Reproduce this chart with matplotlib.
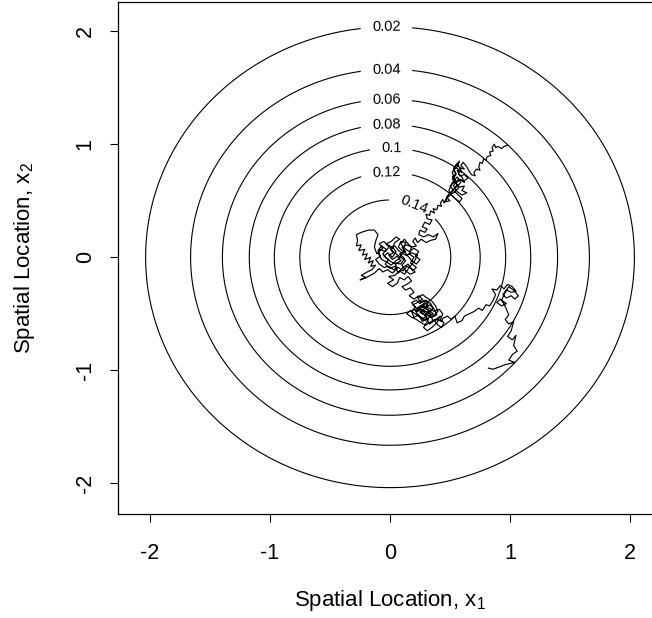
import numpy as np
import matplotlib
matplotlib.use("Agg")
import matplotlib.pyplot as plt

plt.rcParams['font.family'] = ['Liberation Sans', 'DejaVu Sans']
plt.rcParams['mathtext.fontset'] = 'custom'
plt.rcParams['mathtext.rm'] = 'Liberation Sans'
plt.rcParams['mathtext.it'] = 'Liberation Sans:italic'

# contour levels of the standard bivariate normal density
levels = [0.02, 0.04, 0.06, 0.08, 0.10, 0.12, 0.14]
level_labels = {0.02: '0.02', 0.04: '0.04', 0.06: '0.06', 0.08: '0.08',
                0.10: '0.1', 0.12: '0.12', 0.14: '0.14'}
label_x = [-0.03, -0.03, -0.03, -0.03, 0.01, -0.03, 0.20]

ticks = [-2, -1, 0, 1, 2]

# random-walk path, (x1, x2) pairs, piece by piece
walk_tail_top = [
    (0.98, 0.99), (0.95, 0.98), (0.93, 0.96), (0.90, 0.98), (0.88, 0.97), (0.87, 1.00), (0.85, 0.97),
    (0.86, 0.94), (0.83, 0.93), (0.84, 0.90), (0.81, 0.89), (0.80, 0.86), (0.78, 0.87), (0.77, 0.83),
    (0.75, 0.84), (0.74, 0.80), (0.75, 0.77), (0.72, 0.78), (0.70, 0.75), (0.71, 0.72), (0.68, 0.73),
    (0.66, 0.76),
]
walk_cluster_upper = [
    (0.64, 0.80), (0.61, 0.84), (0.59, 0.81), (0.62, 0.78), (0.58, 0.79), (0.60, 0.75), (0.56, 0.77),
    (0.58, 0.72), (0.62, 0.73), (0.65, 0.70), (0.61, 0.67), (0.57, 0.69), (0.55, 0.65), (0.58, 0.62),
    (0.62, 0.63), (0.60, 0.59), (0.64, 0.57), (0.60, 0.55), (0.56, 0.58), (0.53, 0.63), (0.55, 0.68),
    (0.52, 0.71), (0.55, 0.74), (0.53, 0.77), (0.56, 0.80), (0.58, 0.85), (0.55, 0.82), (0.52, 0.75),
    (0.54, 0.67), (0.50, 0.63), (0.53, 0.59), (0.57, 0.55), (0.60, 0.52), (0.58, 0.49), (0.54, 0.52),
    (0.51, 0.55), (0.49, 0.59), (0.52, 0.66), (0.56, 0.71), (0.59, 0.66), (0.54, 0.61), (0.50, 0.57),
    (0.47, 0.53), (0.50, 0.50), (0.46, 0.49),
    (0.49, 0.55), (0.53, 0.57), (0.57, 0.61), (0.55, 0.66), (0.59, 0.69), (0.62, 0.66), (0.60, 0.71),
    (0.57, 0.74), (0.59, 0.78), (0.56, 0.82), (0.53, 0.79), (0.55, 0.73), (0.52, 0.69), (0.56, 0.64),
    (0.53, 0.60), (0.50, 0.55), (0.47, 0.52), (0.45, 0.48),
]
walk_cluster_mid = [
    (0.44, 0.51), (0.42, 0.48), (0.43, 0.45), (0.40, 0.46), (0.39, 0.42), (0.36, 0.43), (0.37, 0.39),
    (0.34, 0.41), (0.33, 0.37), (0.30, 0.38), (0.31, 0.34), (0.35, 0.33), (0.33, 0.29), (0.29, 0.31),
    (0.27, 0.27), (0.31, 0.25), (0.29, 0.22), (0.25, 0.24), (0.24, 0.20), (0.28, 0.18), (0.32, 0.20),
    (0.36, 0.18), (0.40, 0.21), (0.38, 0.16), (0.34, 0.15), (0.30, 0.13), (0.26, 0.16), (0.23, 0.13),
    (0.21, 0.17), (0.19, 0.14), (0.22, 0.10), (0.18, 0.09),
]
walk_cluster_centre = [
    (0.15, 0.12), (0.12, 0.16), (0.09, 0.12), (0.12, 0.08), (0.16, 0.05), (0.20, 0.08), (0.24, 0.05),
    (0.21, 0.01), (0.25, -0.02), (0.22, -0.06), (0.18, -0.03), (0.15, 0.01), (0.11, 0.03), (0.07, 0.06),
    (0.04, 0.10), (0.00, 0.08), (0.03, 0.04), (-0.01, 0.02), (0.02, -0.02), (0.06, 0.01), (0.09, -0.03),
    (0.05, -0.06), (0.01, -0.04), (-0.03, -0.01), (-0.06, 0.03), (-0.03, 0.07), (-0.07, 0.10), (-0.10, 0.06),
    (-0.08, 0.01), (-0.12, -0.02), (-0.09, -0.06), (-0.05, -0.09), (-0.01, -0.08), (0.03, -0.11), (0.07, -0.09),
    (0.11, -0.12), (0.14, -0.08), (0.18, -0.10), (0.21, -0.13), (0.17, -0.15), (0.13, -0.12), (0.10, -0.07),
    (0.13, -0.03), (0.09, 0.00), (0.05, 0.03), (0.01, 0.06), (0.04, 0.13), (0.08, 0.16), (0.05, 0.18),
    (0.01, 0.14), (-0.03, 0.12), (0.00, 0.10), (-0.04, 0.05), (-0.08, 0.07), (-0.11, 0.03), (-0.13, 0.09),
]
walk_loop_left = [
    (-0.12, 0.14), (-0.10, 0.20), (-0.13, 0.24), (-0.18, 0.24), (-0.24, 0.22), (-0.28, 0.20), (-0.27, 0.15),
    (-0.28, 0.10), (-0.24, 0.11), (-0.26, 0.06), (-0.21, 0.07), (-0.23, 0.02), (-0.19, 0.03), (-0.21, -0.02),
    (-0.16, 0.00), (-0.18, -0.05), (-0.14, -0.03), (-0.16, -0.08), (-0.12, -0.07), (-0.15, -0.11), (-0.19, -0.13),
    (-0.24, -0.16), (-0.20, -0.18), (-0.25, -0.20), (-0.18, -0.17), (-0.13, -0.14), (-0.09, -0.10), (-0.06, -0.13),
    (-0.02, -0.11), (0.02, -0.14),
]
walk_cluster_centre_again = [
    (0.06, -0.10), (0.04, -0.05), (0.09, -0.06), (0.12, -0.01), (0.08, 0.03), (0.13, 0.05), (0.10, 0.09),
    (0.14, 0.11), (0.18, 0.09), (0.16, 0.03), (0.20, 0.00), (0.17, -0.05), (0.22, -0.09), (0.19, -0.12),
    (0.15, -0.06), (0.11, -0.09), (0.07, -0.14), (0.04, -0.08), (0.00, -0.10), (-0.04, -0.06), (-0.01, -0.02),
    (-0.05, 0.01), (-0.02, 0.04), (0.02, 0.00), (0.05, 0.05), (0.02, 0.09), (-0.02, 0.10), (-0.05, 0.14),
    (-0.09, 0.12), (-0.06, 0.08), (-0.10, 0.04), (-0.07, -0.02), (-0.03, -0.04), (0.01, -0.07), (0.05, -0.03),
    (0.08, -0.01), (0.11, 0.05), (0.07, 0.09), (0.09, 0.14), (0.13, 0.13), (0.11, 0.07), (0.14, 0.02),
    (0.18, 0.04), (0.23, 0.02), (0.20, -0.04), (0.16, -0.09), (0.12, -0.15), (0.08, -0.12), (0.04, -0.16),
]
walk_descent = [
    (-0.01, -0.17), (0.03, -0.20), (-0.02, -0.23), (0.02, -0.26), (0.06, -0.23), (0.08, -0.18), (0.12, -0.20),
    (0.15, -0.17), (0.18, -0.21), (0.14, -0.24), (0.10, -0.26), (0.13, -0.29),
]
walk_cluster_lower = [
    (0.17, -0.27), (0.20, -0.31), (0.16, -0.34), (0.20, -0.37), (0.24, -0.34), (0.27, -0.37), (0.23, -0.40),
    (0.19, -0.42), (0.22, -0.45), (0.26, -0.43), (0.29, -0.40), (0.32, -0.43), (0.28, -0.46), (0.25, -0.49),
    (0.29, -0.51), (0.33, -0.48), (0.36, -0.45), (0.34, -0.41), (0.30, -0.38), (0.26, -0.40), (0.23, -0.36),
    (0.27, -0.33), (0.31, -0.36), (0.35, -0.39), (0.38, -0.43), (0.40, -0.48), (0.37, -0.51), (0.33, -0.53),
    (0.29, -0.56), (0.25, -0.53), (0.21, -0.50), (0.17, -0.47), (0.14, -0.50), (0.18, -0.53), (0.22, -0.55),
    (0.26, -0.58), (0.30, -0.60), (0.34, -0.57), (0.38, -0.55), (0.42, -0.52), (0.39, -0.58), (0.35, -0.62),
    (0.31, -0.65), (0.28, -0.62), (0.32, -0.55), (0.28, -0.50), (0.24, -0.46), (0.27, -0.44), (0.31, -0.46),
    (0.34, -0.50), (0.30, -0.48), (0.26, -0.47), (0.22, -0.48), (0.25, -0.43), (0.29, -0.44), (0.33, -0.45),
    (0.37, -0.48), (0.41, -0.46), (0.44, -0.50), (0.42, -0.55), (0.45, -0.58), (0.43, -0.62), (0.40, -0.60),
    (0.37, -0.56), (0.33, -0.59), (0.30, -0.54), (0.27, -0.57), (0.24, -0.51), (0.20, -0.53), (0.18, -0.48),
    (0.21, -0.44), (0.18, -0.40), (0.22, -0.38), (0.25, -0.41), (0.28, -0.38), (0.32, -0.40), (0.29, -0.45),
    (0.33, -0.47), (0.36, -0.50), (0.32, -0.52), (0.28, -0.48), (0.25, -0.46), (0.21, -0.47), (0.24, -0.52),
    (0.28, -0.54), (0.31, -0.51), (0.35, -0.53), (0.39, -0.51), (0.37, -0.46), (0.33, -0.42), (0.30, -0.44),
    (0.27, -0.42), (0.24, -0.45), (0.28, -0.47), (0.32, -0.49), (0.36, -0.56), (0.40, -0.55), (0.43, -0.57),
]
walk_crossing = [
    (0.44, -0.54), (0.48, -0.52), (0.51, -0.55), (0.54, -0.52), (0.56, -0.58), (0.60, -0.56), (0.62, -0.52),
    (0.66, -0.50), (0.70, -0.48), (0.74, -0.45), (0.77, -0.47), (0.80, -0.42), (0.83, -0.43),
]
walk_cluster_right = [
    (0.86, -0.38), (0.88, -0.33), (0.85, -0.28), (0.89, -0.29), (0.92, -0.25), (0.95, -0.28), (0.98, -0.24),
    (1.02, -0.26), (1.05, -0.30), (1.01, -0.31), (0.97, -0.29), (0.94, -0.33), (0.97, -0.36), (1.01, -0.34),
    (1.04, -0.37), (1.07, -0.34), (1.03, -0.29), (0.99, -0.26), (0.96, -0.31), (0.93, -0.38), (0.97, -0.41),
    (0.93, -0.43), (0.89, -0.40), (0.92, -0.37), (0.95, -0.41),
]
walk_tail_bottom = [
    (0.97, -0.46), (0.99, -0.51), (0.96, -0.55), (0.99, -0.59), (1.03, -0.57), (1.01, -0.65), (0.98, -0.70),
    (1.02, -0.73), (1.05, -0.69), (1.03, -0.78), (1.06, -0.83), (1.02, -0.86), (0.99, -0.91), (1.04, -0.93),
    (0.96, -0.95), (0.91, -0.97), (0.86, -0.99), (0.82, -0.98),
]

walk = (walk_tail_top + walk_cluster_upper + walk_cluster_mid + walk_cluster_centre
        + walk_loop_left + walk_cluster_centre_again + walk_descent + walk_cluster_lower
        + walk_crossing + walk_cluster_right + walk_tail_bottom)
walk_x1 = [p[0] for p in walk]
walk_x2 = [p[1] for p in walk]

fig = plt.figure(figsize=(6.52, 6.18), dpi=100)
ax = fig.add_axes([118 / 652, 1 - 514 / 618, 544 / 652, 512 / 618])

g = np.linspace(-2.4, 2.4, 401)
X1, X2 = np.meshgrid(g, g)
Z = np.exp(-(X1 ** 2 + X2 ** 2) / 2) / (2 * np.pi)

cs = ax.contour(X1, X2, Z, levels=levels, colors='black', linewidths=0.8)
positions = []
for lv, lx in zip(levels, label_x):
    r = np.sqrt(-2 * np.log(2 * np.pi * lv))
    positions.append((lx, np.sqrt(max(r ** 2 - lx ** 2, 0))))
cs.clabel(fmt=level_labels, manual=positions, inline=True, inline_spacing=10,
          fontsize=10.5)

ax.plot(walk_x1, walk_x2, color='black', linewidth=0.85)

ax.set_xlim(-2.267, 2.267)
ax.set_ylim(-2.27, 2.257)
ax.set_xticks(ticks)
ax.set_yticks(ticks)
ax.set_xticklabels([str(t) for t in ticks])
ax.set_yticklabels([str(t) for t in ticks], rotation=90, va='center')
ax.tick_params(direction='out', length=6, width=0.8, labelsize=15.5)
ax.tick_params(axis='x', pad=15)
ax.tick_params(axis='y', pad=10)
for s in ax.spines.values():
    s.set_linewidth(0.9)

ax.set_xlabel(r'Spatial Location, $\mathrm{x}_1$', fontsize=16, labelpad=17)
ax.set_ylabel(r'Spatial Location, $\mathrm{x}_2$', fontsize=16, labelpad=27)

fig.savefig('out.png', dpi=100)
